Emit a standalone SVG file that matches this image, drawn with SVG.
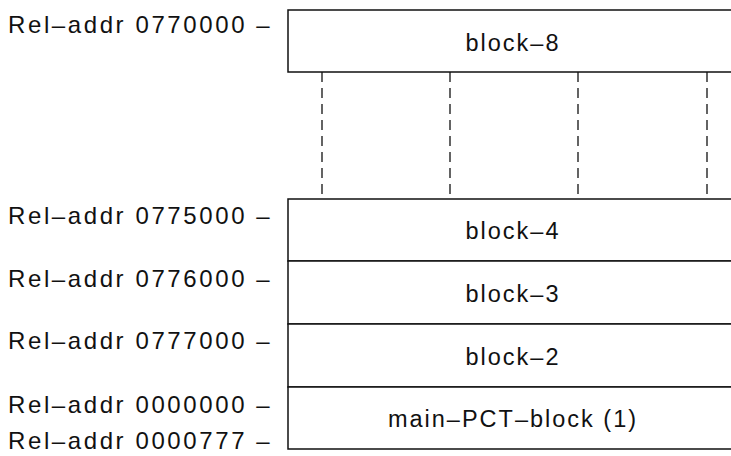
<svg xmlns="http://www.w3.org/2000/svg" width="731" height="456" viewBox="0 0 731 456">
<style>
text{font-family:"Liberation Sans",Arial,sans-serif;font-size:24px;fill:#111;letter-spacing:2.6px}
.c{text-anchor:middle;font-size:23.5px;letter-spacing:2px}
.box{fill:#fff;stroke:#111;stroke-width:1.5}
.d{stroke:#111;stroke-width:1.3;stroke-dasharray:10 6;fill:none}
</style>
<rect width="731" height="456" fill="#fff"/>
<g id="labels">
<text x="8" y="33">Rel–addr 0770000 –</text>
<text x="8" y="224">Rel–addr 0775000 –</text>
<text x="8" y="287">Rel–addr 0776000 –</text>
<text x="8" y="349">Rel–addr 0777000 –</text>
<text x="8" y="413">Rel–addr 0000000 –</text>
<text x="8" y="449">Rel–addr 0000777 –</text>
</g>
<g id="block-8">
<path class="box" d="M733,10 H288 V72 H733"/>
<text class="c" x="513" y="51">block–8</text>
</g>
<g id="connectors">
<line class="d" x1="322" y1="72" x2="322" y2="199"/>
<line class="d" x1="450" y1="72" x2="450" y2="199"/>
<line class="d" x1="578" y1="72" x2="578" y2="199"/>
<line class="d" x1="707" y1="72" x2="707" y2="199"/>
</g>
<g id="block-4">
<path class="box" d="M733,199 H288 V261 H733"/>
<text class="c" x="513" y="239">block–4</text>
</g>
<g id="block-3">
<path class="box" d="M733,261 H288 V324 H733"/>
<text class="c" x="513" y="302">block–3</text>
</g>
<g id="block-2">
<path class="box" d="M733,324 H288 V387 H733"/>
<text class="c" x="513" y="365">block–2</text>
</g>
<g id="main-PCT-block">
<path class="box" d="M733,387 H288 V449 H733"/>
<text class="c" x="513" y="427">main–PCT–block (1)</text>
</g>
</svg>
